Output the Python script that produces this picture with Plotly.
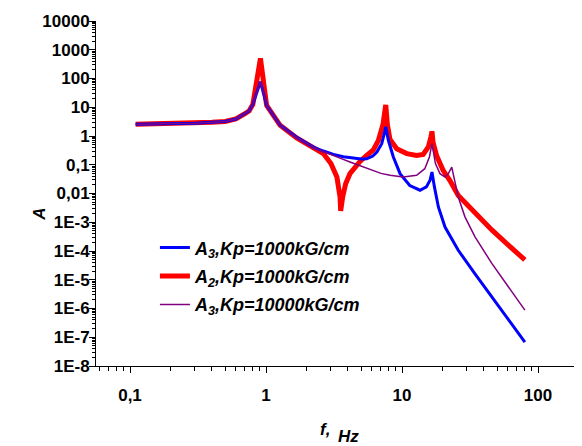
import plotly.graph_objects as go

# ---- data ----
f_red = [0.11, 0.15, 0.2, 0.3, 0.4, 0.5, 0.6, 0.7, 0.75, 0.8, 0.91, 1.01, 1.13, 1.27, 1.68,
         2.23, 2.64, 3.0, 3.32, 3.5, 3.54, 3.66, 3.85, 4.14, 4.91, 5.5, 6.15, 6.7, 7.25, 7.59,
         7.8, 8.16, 9.14, 10.83, 12.8, 14.3, 15.6, 16.3, 16.6, 16.9, 18.0, 20.0, 22.5, 25.9,
         34.4, 45.7, 60.5, 80.0]
a_red = [2.55, 2.6, 2.65, 2.8, 3.0, 3.2, 3.9, 6.0, 7.4, 12.5, 500, 11.7, 5.25, 2.36, 0.86,
         0.41, 0.245, 0.11, 0.0375, 0.0076, 0.0025, 0.0076, 0.022, 0.049, 0.13, 0.21, 0.33,
         0.7, 2.6, 12.0, 2.5, 0.75, 0.36, 0.244, 0.21, 0.23, 0.414, 0.92, 1.45, 0.6, 0.2,
         0.065, 0.028, 0.0085, 0.0021, 5.4e-4, 1.6e-4, 4.9e-5]

f_blue = [0.11, 0.15, 0.2, 0.3, 0.4, 0.5, 0.6, 0.7, 0.75, 0.8, 0.91, 1.01, 1.13, 1.27, 1.68,
          2.23, 2.64, 3.13, 3.7, 4.38, 5.0, 5.5, 6.1, 6.53, 7.09, 7.4, 7.59, 7.93, 8.63, 9.67,
          11.4, 13.56, 15.1, 16.06, 16.6, 17.3, 18.5, 20.7, 23.2, 25.9, 34.4, 45.7, 60.5, 80.0]
a_blue = [2.55, 2.6, 2.65, 2.8, 3.0, 3.2, 3.9, 6.0, 7.4, 12.5, 77, 11.7, 5.25, 2.36, 0.9,
          0.41, 0.3, 0.23, 0.19, 0.166, 0.158, 0.163, 0.2, 0.277, 0.54, 1.2, 2.1, 0.71, 0.186,
          0.049, 0.019, 0.013, 0.017, 0.029, 0.056, 0.017, 0.0034, 6.8e-4, 2.7e-4, 1.06e-4,
          1.6e-5, 2.5e-6, 4.3e-7, 6.8e-8]

f_purple = [0.11, 0.15, 0.2, 0.3, 0.4, 0.5, 0.6, 0.7, 0.75, 0.8, 0.91, 1.01, 1.13, 1.27, 1.68,
            2.23, 2.64, 2.95, 3.5, 4.14, 5.0, 5.83, 7.0, 8.16, 10.2, 12.8, 14.7, 15.9, 16.6,
            17.6, 19.0, 20.7, 21.9, 23.2, 24.6, 25.9, 29.0, 34.4, 45.7, 60.5, 80.0]
a_purple = [2.55, 2.6, 2.65, 2.8, 3.0, 3.2, 3.9, 6.0, 7.4, 12.5, 77, 11.7, 5.25, 2.36, 0.9,
            0.41, 0.29, 0.24, 0.17, 0.125, 0.088, 0.066, 0.05, 0.043, 0.0375, 0.043, 0.073,
            0.186, 0.54, 0.11, 0.049, 0.0375, 0.049, 0.083, 0.022, 0.0076, 0.00154, 3.1e-4,
            3.7e-5, 5.6e-6, 8.8e-7]

names = ["A<sub>3</sub>,Kp=1000kG/cm", "A<sub>2</sub>,Kp=1000kG/cm", "A<sub>3</sub>,Kp=10000kG/cm"]

x_tickvals = [0.1, 1, 10, 100]
x_ticktext = ["0,1", "1", "10", "100"]
y_tickvals = [1e-8, 1e-7, 1e-6, 1e-5, 1e-4, 1e-3, 1e-2, 1e-1, 1, 10, 100, 1000, 10000]
y_ticktext = ["1E-8", "1E-7", "1E-6", "1E-5", "1E-4", "1E-3", "0,01", "0,1", "1", "10",
              "100", "1000", "10000"]

x_minor = [m * 10.0 ** e for e in range(-2, 3) for m in range(2, 10)]
y_minor = [m * 10.0 ** e for e in range(-8, 4) for m in range(2, 10)]

FONT = "Arial, Liberation Sans, sans-serif"

fig = go.Figure()
fig.add_trace(go.Scatter(x=f_red, y=a_red, mode="lines", name=names[1],
                         line=dict(color="#ff0000", width=5), legendrank=2,
                         legendgroup="g2"))
fig.add_trace(go.Scatter(x=f_blue, y=a_blue, mode="lines", name=names[0],
                         line=dict(color="#0000ff", width=3), legendrank=1,
                         legendgroup="g1"))
fig.add_trace(go.Scatter(x=f_purple, y=a_purple, mode="lines", name=names[2],
                         line=dict(color="#800080", width=1.5), legendrank=3,
                         legendgroup="g3"))

axis_common = dict(showline=True, linecolor="black", linewidth=1, showgrid=False,
                   zeroline=False, ticks="outside", tickcolor="black", ticklen=6,
                   tickwidth=1,
                   tickfont=dict(family=FONT, size=17, color="black", weight="bold"))

fig.update_xaxes(type="log", range=[-1.25, 2.301], tickmode="array",
                 tickvals=x_tickvals, ticktext=x_ticktext, ticklabelstandoff=8,
                 minor=dict(tickmode="array", tickvals=x_minor, ticks="outside",
                            ticklen=4, tickcolor="black", showgrid=False),
                 **axis_common)
fig.update_yaxes(type="log", range=[-8, 4], tickmode="array",
                 tickvals=y_tickvals, ticktext=y_ticktext, ticklabelstandoff=-4,
                 minor=dict(tickmode="array", tickvals=y_minor, ticks="outside",
                            ticklen=3, tickcolor="black", showgrid=False),
                 **axis_common)

# the page body adds an 8px offset, so the figure is 8px smaller and margins shifted
title_font = dict(family=FONT, size=17, color="black", weight="bold", style="italic")
fig.update_layout(
    width=574, height=438,
    margin=dict(l=88, r=3, t=13, b=80, pad=0),
    paper_bgcolor="white", plot_bgcolor="white",
    showlegend=True,
    legend=dict(x=0.122, y=0.396, xanchor="left", yanchor="top",
                bgcolor="rgba(0,0,0,0)", borderwidth=0, tracegroupgap=2,
                font=dict(family=FONT, size=18, color="black", weight="bold",
                          style="italic")),
    annotations=[
        dict(text="A", xref="paper", yref="paper", x=-0.116, y=0.441,
             xanchor="center", yanchor="middle", textangle=-90, showarrow=False,
             font=title_font),
        dict(text="f,", xref="paper", yref="paper", x=0.474, y=-0.185,
             xanchor="center", yanchor="middle", showarrow=False, font=title_font),
        dict(text="Hz", xref="paper", yref="paper", x=0.522, y=-0.205,
             xanchor="center", yanchor="middle", showarrow=False, font=title_font),
    ],
)

fig.write_html("out.html")
